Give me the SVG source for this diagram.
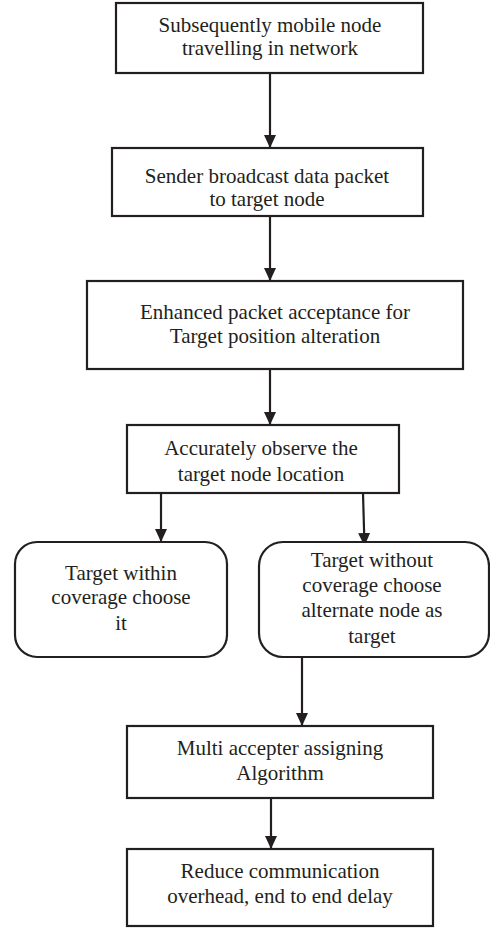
<svg xmlns="http://www.w3.org/2000/svg" width="490" height="928" viewBox="0 0 490 928">
<defs>
<marker id="ah" markerUnits="userSpaceOnUse" markerWidth="14" markerHeight="14" viewBox="0 0 14 14" refX="13" refY="7" orient="auto">
<path d="M0,1 L13,7 L0,13 Z" fill="#231f20"/>
</marker>
<style>
.box{fill:#fff;stroke:#231f20;stroke-width:2.2}
.t{font-family:"Liberation Serif","Times New Roman",serif;font-size:21px;fill:#231f20;text-anchor:middle}
.c{stroke:#231f20;stroke-width:2.2;fill:none;marker-end:url(#ah)}
</style>
</defs>
<rect width="490" height="928" fill="#fff"/>
<g id="connectors">
<line class="c" x1="270" y1="73" x2="270" y2="148"/>
<line class="c" x1="270" y1="216" x2="270" y2="281"/>
<line class="c" x1="270" y1="369" x2="270" y2="425"/>
<line class="c" x1="161" y1="493" x2="161" y2="542"/>
<line class="c" x1="363" y1="493" x2="364.5" y2="546"/>
<line class="c" x1="302" y1="657" x2="302" y2="726"/>
<line class="c" x1="271" y1="798" x2="271" y2="849"/>
</g>
<g id="n1">
<rect class="box" x="116" y="3" width="307" height="70"/>
<text class="t" x="270" y="32">Subsequently mobile node</text>
<text class="t" x="270" y="55">travelling in network</text>
</g>
<g id="n2">
<rect class="box" x="112" y="148" width="311" height="68"/>
<text class="t" x="267" y="183">Sender broadcast data packet</text>
<text class="t" x="267" y="206">to target node</text>
</g>
<g id="n3">
<rect class="box" x="87" y="281" width="376" height="88"/>
<text class="t" x="275" y="319">Enhanced packet acceptance for</text>
<text class="t" x="275" y="343">Target position alteration</text>
</g>
<g id="n4">
<rect class="box" x="127" y="425" width="272" height="68"/>
<text class="t" x="261" y="455">Accurately observe the</text>
<text class="t" x="261" y="481">target node location</text>
</g>
<g id="n5">
<rect class="box" x="15" y="542" width="212" height="115" rx="22" ry="22"/>
<text class="t" x="121" y="580">Target within</text>
<text class="t" x="121" y="604">coverage choose</text>
<text class="t" x="121" y="630">it</text>
</g>
<g id="n6">
<rect class="box" x="259" y="542" width="230" height="115" rx="24" ry="24"/>
<text class="t" x="372" y="567">Target without</text>
<text class="t" x="372" y="592">coverage choose</text>
<text class="t" x="372" y="617">alternate node as</text>
<text class="t" x="372" y="643">target</text>
</g>
<g id="n7">
<rect class="box" x="127" y="726" width="306" height="72"/>
<text class="t" x="280" y="755">Multi accepter assigning</text>
<text class="t" x="280" y="780">Algorithm</text>
</g>
<g id="n8">
<rect class="box" x="127" y="849" width="306" height="77"/>
<text class="t" x="280" y="878">Reduce communication</text>
<text class="t" x="280" y="903">overhead, end to end delay</text>
</g>
</svg>
